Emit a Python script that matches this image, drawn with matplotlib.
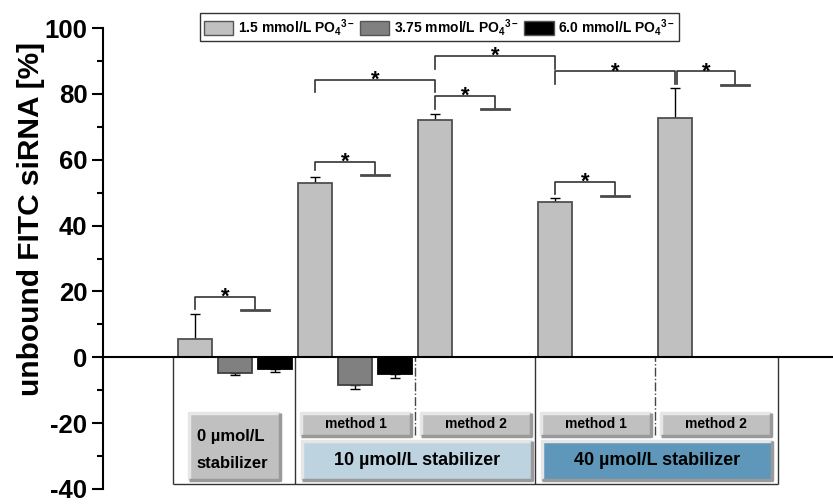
import numpy as np
import matplotlib.pyplot as plt
from matplotlib.patches import Rectangle, Patch

plt.rcParams['font.family'] = ['Liberation Sans', 'DejaVu Sans']
plt.rcParams['font.weight'] = 'bold'
plt.rcParams['axes.unicode_minus'] = False
plt.rcParams['mathtext.fontset'] = 'custom'
plt.rcParams['mathtext.rm'] = 'Liberation Sans:bold'
plt.rcParams['mathtext.it'] = 'Liberation Sans:bold'
plt.rcParams['mathtext.bf'] = 'Liberation Sans:bold'
plt.rcParams['mathtext.default'] = 'rm'

# dados (% de siRNA livre)
grupos = ['0 µmol/L', '10 µmol/L m1', '10 µmol/L m2', '40 µmol/L m1', '40 µmol/L m2']
media_15 = [5.4, 53.0, 72.2, 47.2, 72.6]
dp_15 = [7.8, 1.9, 1.8, 1.2, 9.1]
media_375 = [-4.9, -8.5]
dp_375 = [0.6, 1.2]
media_60 = [-3.7, -5.0]
dp_60 = [0.8, 1.4]

legendas = ['1.5 mmol/L PO$_4$$^{3-}$', '3.75 mmol/L PO$_4$$^{3-}$', '6.0 mmol/L PO$_4$$^{3-}$']
cores = ['#c0c0c0', '#808080', '#000000']

# colchetes de significancia: x esq, x dir, topo, fim esq, fim dir, com T
colchetes = [
    (0, 1.5, 18.4, 14.7, 14.4, True),
    (3, 4.5, 59.4, 57.0, 55.5, True),
    (3, 6, 84.2, 80.5, 80.5, False),
    (6, 7.5, 79.3, 75.5, 75.3, True),
    (6, 9, 91.6, 87.7, 87.7, False),
    (9, 12, 86.8, 83.0, 83.0, False),
    (12.05, 13.5, 86.8, 83.0, 82.8, True),
    (9, 10.5, 53.2, 49.6, 49.1, True),
]

fig = plt.figure(figsize=(8.33, 5.04), dpi=100)
ax = fig.add_axes([0.124, 0.0298, 0.876, 0.9146])

larg = 0.85
x15 = np.arange(len(media_15)) * 3
x375 = np.arange(len(media_375)) * 3 + 1
x60 = np.arange(len(media_60)) * 3 + 2

ax.bar(x15, media_15, larg, color=cores[0], edgecolor='#505050', lw=1.3, zorder=3)
ax.bar(x375, media_375, larg, color=cores[1], edgecolor='#404040', lw=1.3, zorder=3)
ax.bar(x60, media_60, larg, color=cores[2], edgecolor='#000000', lw=1.3, zorder=3)

zero = np.zeros(len(media_15))
ax.errorbar(x15, media_15, yerr=[zero, dp_15], fmt='none', ecolor='black',
            elinewidth=1, capsize=3.6, capthick=1, zorder=2)
ax.errorbar(x375, media_375, yerr=[dp_375, np.zeros(2)], fmt='none', ecolor='black',
            elinewidth=1, capsize=3.6, capthick=1, zorder=2)
ax.errorbar(x60, media_60, yerr=[dp_60, np.zeros(2)], fmt='none', ecolor='black',
            elinewidth=1, capsize=3.6, capthick=1, zorder=2)

for xe, xd, yt, ye, yd, tem_t in colchetes:
    ax.plot([xe, xe, xd, xd], [ye, yt, yt, yd], color='#333333', lw=1.2, zorder=4)
    if tem_t:
        ax.plot([xd - 0.35, xd + 0.35], [yd, yd], color='#4a4a4a', lw=2, zorder=4)
    ax.text((xe + xd) / 2, yt - 1.8, '*', ha='center', va='baseline', fontsize=16, zorder=5)

# quadro inferior
ax.vlines([-0.55, 2.5, 8.5, 14.57], -38.4, 0, color='#333333', lw=1)
ax.hlines(-38.4, -0.55, 14.57, color='#333333', lw=1)
ax.vlines([5.5, 11.5], -23.7, 0, color='#444444', lw=1, linestyles='-.')


def caixa(x0, x1, y0, y1, cor, texto, tam, borda=None):
    ax.add_patch(Rectangle((x0, y0), x1 - x0, y1 - y0, facecolor=cor,
                           edgecolor=borda if borda else 'none', lw=1, zorder=3))
    ax.plot([x0, x0, x1], [y0, y1, y1], color='#e6e6e6', lw=2.5, zorder=4,
            solid_capstyle='butt')
    ax.plot([x0, x1, x1], [y0, y0, y1], color='#9a9a9a', lw=2.5, zorder=4,
            solid_capstyle='butt')
    if texto:
        ax.text((x0 + x1) / 2, (y0 + y1) / 2, texto, ha='center', va='center',
                fontsize=tam, zorder=5)


caixa(-0.15, 2.125, -37.2, -16.9, '#c0c0c0', None, 12)
ax.text(0.05, -24.1, '0 µmol/L', ha='left', va='center', fontsize=12, zorder=5)
ax.text(0.05, -32.4, 'stabilizer', ha='left', va='center', fontsize=12, zorder=5)

for g in [1, 3]:
    a = x15[g]
    b = x15[g + 1]
    caixa(a - 0.35, a + 2.4, -23.8, -16.9, '#c0c0c0', 'method 1', 10)
    caixa(b - 0.35, b + 2.4, -23.8, -16.9, '#c0c0c0', 'method 2', 10)

caixa(x15[1] - 0.33, x15[2] + 2.42, -37.2, -25.3, '#bdd3e0', '10 µmol/L stabilizer', 13)
caixa(x15[3] - 0.33, x15[4] + 2.42, -37.2, -25.3, '#5e97ba', '40 µmol/L stabilizer', 13,
      borda='#3a7db0')

# eixos
ax.set_xlim(-2.29, 15.95)
ax.set_ylim(-40, 100)
ax.axhline(0, color='black', lw=1.5, zorder=3)
for s in ['top', 'right', 'bottom']:
    ax.spines[s].set_visible(False)
ax.spines['left'].set_linewidth(1.5)
ax.set_xticks([])
ax.set_yticks(np.arange(-40, 101, 20))
ax.set_yticks(np.arange(-30, 100, 20), minor=True)
ax.tick_params(axis='y', which='major', length=8, width=1.5, labelsize=18.5, direction='out')
ax.tick_params(axis='y', which='minor', length=4, width=1.5, direction='out')

fig.text(31 / 833, 1 - 219 / 504, 'unbound FITC siRNA [%]', rotation=90,
         ha='center', va='center', fontsize=21.5)

alcas = [Patch(facecolor=c, edgecolor='#555555', lw=1) for c in cores]
fig.legend(alcas, legendas, loc='center', bbox_to_anchor=(0.5276, 0.946), ncol=3,
           fontsize=10, frameon=True, fancybox=False, edgecolor='black',
           handlelength=2.1, handleheight=1.2, handletextpad=0.35,
           columnspacing=0.4, borderpad=0.25, borderaxespad=0)
fig.legends[0].get_frame().set_linewidth(1)

plt.savefig('out.png', dpi=100)
